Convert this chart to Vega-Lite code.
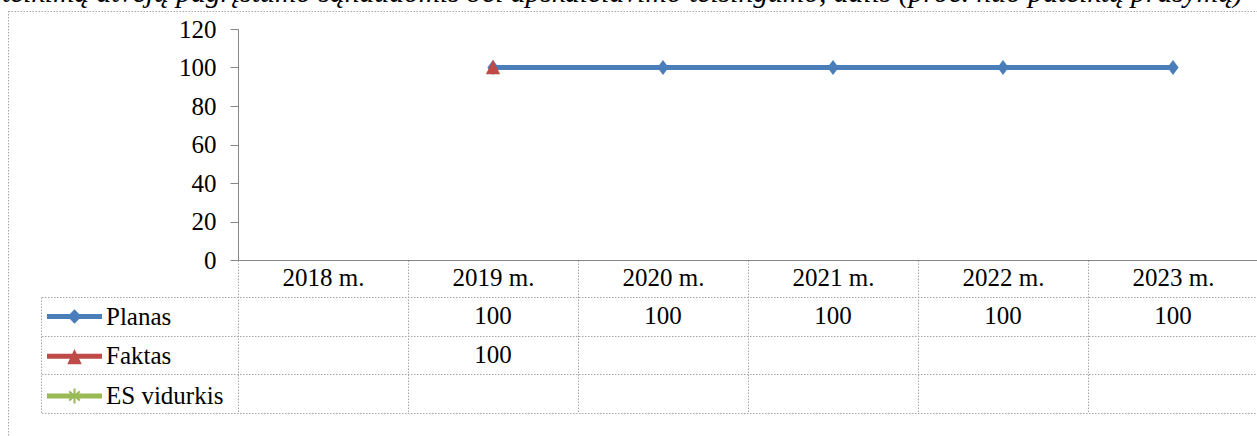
{
  "$schema": "https://vega.github.io/schema/vega-lite/v6.json",
  "width": 1253,
  "height": 429,
  "autosize": {"type": "none"},
  "padding": {"left": 8, "top": 11, "right": -4, "bottom": -4},
  "background": "white",
  "title": {
    "text": "teikimą atvejų pagrįstumo sąnaudomis bei apskaičiavimo teisingumo, dalis (proc. nuo pateiktų prašymų)",
    "font": "Liberation Serif",
    "fontStyle": "italic",
    "fontWeight": "normal",
    "fontSize": 29.6,
    "color": "black",
    "anchor": "start",
    "frame": "group",
    "dx": -6,
    "dy": 20.5,
    "baseline": "alphabetic",
    "offset": 0
  },
  "config": {
    "font": "Liberation Serif",
    "view": {"stroke": "#a6a6a6", "strokeDash": [1.5, 1.5], "strokeWidth": 1},
    "axis": {"labelFont": "Liberation Serif", "labelFontSize": 25, "labelColor": "black", "grid": false, "title": null},
    "legend": {"labelFont": "Liberation Serif", "labelFontSize": 25, "labelColor": "black"}
  },
  "datasets": {
    "series": [
      {"year": "2019 m.", "series": "Planas", "value": 100},
      {"year": "2020 m.", "series": "Planas", "value": 100},
      {"year": "2021 m.", "series": "Planas", "value": 100},
      {"year": "2022 m.", "series": "Planas", "value": 100},
      {"year": "2023 m.", "series": "Planas", "value": 100},
      {"year": "2019 m.", "series": "Faktas", "value": 100}
    ]
  },
  "data": {"name": "series"},
  "layer": [
    {
      "mark": {"type": "line", "strokeWidth": 5},
      "encoding": {
        "x": {
          "field": "year", "type": "ordinal", "bandPosition": 0.5,
          "scale": {"type": "band", "domain": ["2018 m.", "2019 m.", "2020 m.", "2021 m.", "2022 m.", "2023 m."], "range": [230, 1250], "paddingInner": 0, "paddingOuter": 0},
          "axis": {
            "orient": "bottom", "offset": -180, "title": null,
            "domainColor": "#868686", "domainWidth": 1,
            "ticks": true, "tickBand": "extent", "tickSize": 153, "tickColor": "#a6a6a6", "tickDash": [1.5, 1.5], "tickWidth": 1,
            "labelAngle": 0, "labelBaseline": "middle", "labelPadding": -136
          }
        },
        "y": {
          "field": "value", "type": "quantitative",
          "scale": {"domain": [0, 120], "range": [249, 18], "nice": false, "zero": false},
          "axis": {
            "orient": "left", "offset": -230, "values": [0, 20, 40, 60, 80, 100, 120], "title": null,
            "domainColor": "#868686", "tickColor": "#868686", "tickSize": 8, "labelPadding": 14
          }
        },
        "color": {
          "field": "series", "type": "nominal",
          "scale": {"domain": ["Planas", "Faktas", "ES vidurkis"], "range": ["#4A7EBB", "#BE4B48", "#98B954"]},
          "legend": null
        }
      }
    },
    {
      "mark": {"type": "point", "filled": true, "opacity": 1, "size": 225, "strokeWidth": 0},
      "encoding": {
        "x": {"field": "year", "type": "ordinal", "bandPosition": 0.5},
        "y": {
          "field": "value", "type": "quantitative",
          "scale": {"domain": [0, 120], "range": [249, 18], "nice": false, "zero": false},
          "axis": null
        },
        "color": {"field": "series", "type": "nominal", "legend": null},
        "shape": {
          "field": "series", "type": "nominal",
          "scale": {"domain": ["Planas", "Faktas", "ES vidurkis"], "range": ["M0,-1L0.75,0L0,1L-0.75,0Z", "M0,-1.05L0.95,0.9L-0.95,0.9Z", "cross"]},
          "legend": null
        }
      }
    },
    {
      "mark": {"type": "text", "fontSize": 25, "font": "Liberation Serif", "color": "black"},
      "encoding": {
        "x": {"field": "year", "type": "ordinal", "bandPosition": 0.5},
        "y": {
          "field": "series", "type": "nominal",
          "scale": {"type": "band", "domain": ["Planas", "Faktas", "ES vidurkis"], "range": [286, 402], "paddingInner": 0, "paddingOuter": 0},
          "axis": {
            "orient": "left", "offset": -1250, "title": null, "labels": false, "domain": false,
            "ticks": true, "tickBand": "extent", "tickSize": 1217, "tickColor": "#a6a6a6", "tickDash": [1.5, 1.5], "tickWidth": 1
          }
        },
        "text": {"field": "value", "type": "quantitative"}
      }
    },
    {
      "mark": {"type": "point", "filled": true, "size": 0, "opacity": 0},
      "encoding": {
        "y": {
          "field": "series", "type": "nominal",
          "scale": {"type": "band", "domain": ["Planas", "Faktas", "ES vidurkis"], "range": [286, 402], "paddingInner": 0, "paddingOuter": 0},
          "axis": {
            "orient": "left", "offset": -33, "title": null, "labels": false, "ticks": false,
            "domain": true, "domainColor": "#a6a6a6", "domainDash": [1.5, 1.5], "domainWidth": 1
          }
        },
        "fill": {
          "field": "series", "type": "nominal",
          "scale": {"domain": ["Planas", "Faktas", "ES vidurkis"], "range": ["#4A7EBB", "#BE4B48", "#98B954"]},
          "legend": {
            "title": null, "orient": "none", "legendX": 39, "legendY": 293, "padding": 0,
            "rowPadding": 13.7, "labelOffset": 34, "symbolSize": 625, "symbolStrokeWidth": 0,
            "symbolOpacity": 1, "labelLimit": 300, "labelFontSize": 25, "labelColor": "black",
            "encoding": {"symbols": {"fill": {"value": {"expr": "scale('fill', datum.value)"}}}}
          }
        },
        "shape": {
          "field": "series", "type": "nominal",
          "scale": {"domain": ["Planas", "Faktas", "ES vidurkis"], "range": [
            "M-1,-0.2H3.4V0.2H-1Z M1.2,-0.58L1.76,0L1.2,0.58L0.64,0Z",
            "M-1,-0.2H3.4V0.2H-1Z M1.2,-0.58L1.78,0.64L0.62,0.64Z",
            "M-1,-0.2H3.4V0.2H-1Z M1.12,-0.6H1.28V0.6H1.12Z M0.72,-0.31L0.83,-0.42L1.68,0.31L1.57,0.42Z M0.83,0.42L0.72,0.31L1.57,-0.42L1.68,-0.31Z"
          ]},
          "legend": {
            "title": null, "orient": "none", "legendX": 39, "legendY": 293, "padding": 0,
            "rowPadding": 13.7, "labelOffset": 34, "symbolSize": 625, "symbolStrokeWidth": 0,
            "symbolOpacity": 1, "labelLimit": 300, "labelFontSize": 25, "labelColor": "black",
            "encoding": {"symbols": {"fill": {"value": {"expr": "scale('fill', datum.value)"}}}}
          }
        }
      }
    }
  ],
  "resolve": {"scale": {"y": "independent", "shape": "independent"}}
}
